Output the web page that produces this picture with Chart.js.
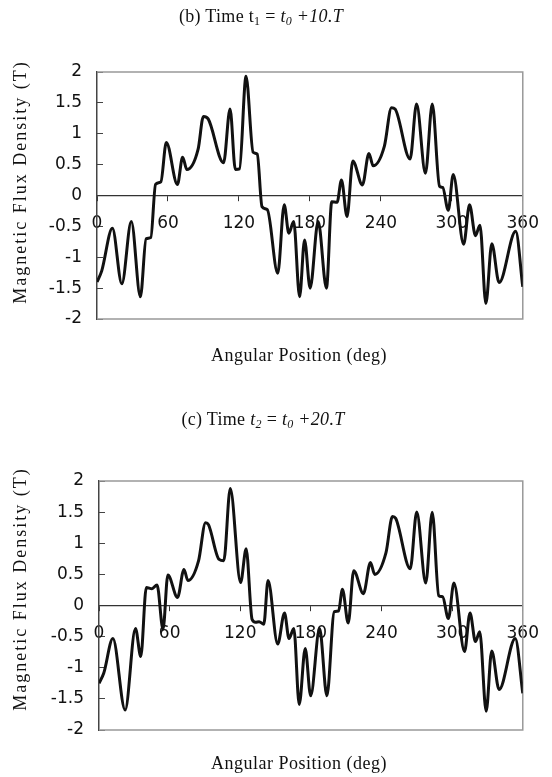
<!DOCTYPE html>
<html>
<head>
<meta charset="utf-8">
<script src="https://cdn.jsdelivr.net/npm/chart.js@4.4.1/dist/chart.umd.min.js"></script>
<style>
  body { margin: 0; background: #fff; }
  #page { position: relative; width: 552px; height: 777px; overflow: hidden; }
  canvas { position: absolute; left: 0; }
  .cap { position: absolute; font-family: 'Liberation Serif', 'Times New Roman', serif; font-size: 18px; line-height: 22px; text-align: center; color: #111; white-space: nowrap; z-index: 2; }
  .cap sub { font-size: 12px; vertical-align: -3px; line-height: 0; }
  .ylab { left: 20px; letter-spacing: 2px; transform: translate(-50%, -50%) rotate(-90deg); }
</style>
</head>
<body>
<div id="page">
  <canvas id="chartB" width="552" height="388" style="top:0"></canvas>
  <canvas id="chartC" width="552" height="389" style="top:388px"></canvas>
  <div class="cap" style="left:0;width:522px;top:5px;letter-spacing:0.3px">(b) Time t<sub>1</sub> = <i>t<sub>0</sub> +10.T</i></div>
  <div class="cap ylab" style="top:182px">Magnetic Flux Density (T)</div>
  <div class="cap" style="left:99px;width:400px;top:344px;letter-spacing:0.5px">Angular Position (deg)</div>
  <div class="cap" style="left:0;width:526px;top:408px;letter-spacing:0.3px">(c) Time <i>t<sub>2</sub></i> = <i>t<sub>0</sub> +20.T</i></div>
  <div class="cap ylab" style="top:589px">Magnetic Flux Density (T)</div>
  <div class="cap" style="left:99px;width:400px;top:752px;letter-spacing:0.5px">Angular Position (deg)</div>
</div>
<script>
// (b) t1 = t0 + 10T : angular position (deg) and flux density (T)
const angleB = [0, 4, 13, 21, 29, 36.7, 41.5, 45.5, 49.5, 54, 58.6, 68, 72.4, 76, 85.5, 90, 94,
  107, 112.5, 117, 120.5, 126, 132, 135.5, 139.5, 144, 152.8, 158.3, 162.2, 166.3, 171.3, 175.5,
  180.2, 187, 194, 198.5, 203, 206.7, 211.4, 216.3, 224.4, 229.9, 233.5, 243, 249, 252, 264.7,
  270.2, 277.7, 283.5, 289.6, 292.3, 297, 301.2, 310, 315, 320, 323.8, 328.8, 333.8, 340, 354, 360];
const fluxB = [-1.40, -1.22, -0.53, -1.43, -0.42, -1.64, -0.70, -0.68, 0.18, 0.22, 0.86, 0.18, 0.62, 0.42, 0.75, 1.28, 1.24,
  0.53, 1.40, 0.42, 0.43, 1.93, 0.70, 0.67, -0.18, -0.23, -1.26, -0.15, -0.61, -0.42, -1.64, -0.72,
  -1.50, -0.42, -1.50, -0.10, -0.11, 0.25, -0.34, 0.56, 0.17, 0.68, 0.48, 0.80, 1.42, 1.40, 0.59,
  1.48, 0.36, 1.48, 0.15, 0.13, -0.24, 0.34, -0.79, -0.15, -0.65, -0.48, -1.75, -0.78, -1.41, -0.58, -1.48];

// (c) t2 = t0 + 20T
const angleC = [0, 4, 11.8, 22.2, 31, 35.5, 40.2, 45, 49.3, 54.4, 58.5, 66.7, 72.2, 75.5, 84.6, 90.5, 93,
  102, 106, 111.5, 120.3, 125, 130, 133, 136, 140, 143.6, 151.8, 157.6, 161.4, 165.5, 170.1, 175.2,
  179.8, 187.4, 193.6, 199.9, 203.5, 206.8, 211.7, 216.4, 224.6, 230.6, 234.2, 243.8, 249.3, 252,
  264.4, 269.9, 277.6, 283.1, 288.6, 291.9, 296.8, 301.5, 310.5, 315.2, 319.8, 323.4, 328.9, 333.6, 339.9, 353.6, 360];
const fluxC = [-1.25, -1.09, -0.53, -1.68, -0.37, -0.82, 0.29, 0.27, 0.33, -0.38, 0.49, 0.13, 0.58, 0.40, 0.72, 1.33, 1.30,
  0.74, 0.72, 1.88, 0.37, 0.91, -0.22, -0.27, -0.26, -0.30, 0.40, -0.62, -0.12, -0.53, -0.37, -1.59, -0.69,
  -1.45, -0.37, -1.45, -0.10, -0.09, 0.26, -0.28, 0.56, 0.19, 0.69, 0.50, 0.85, 1.43, 1.40,
  0.59, 1.50, 0.36, 1.50, 0.16, 0.14, -0.21, 0.36, -0.74, -0.12, -0.58, -0.42, -1.70, -0.73, -1.35, -0.53, -1.41];

const xTicks = [0, 60, 120, 180, 240, 300, 360];
const yTicks = [-2, -1.5, -1, -0.5, 0, 0.5, 1, 1.5, 2];

// grey box round the plot area (top, right, bottom)
const frame = {
  id: 'frame',
  beforeDatasetsDraw(chart) {
    const { ctx, chartArea: a } = chart;
    ctx.save();
    ctx.strokeStyle = '#999';
    ctx.lineWidth = 1.5;
    ctx.beginPath();
    ctx.moveTo(a.left, a.top);
    ctx.lineTo(a.right, a.top);
    ctx.lineTo(a.right, a.bottom);
    ctx.lineTo(a.left, a.bottom);
    ctx.stroke();
    ctx.restore();
  }
};

function makeChart(id, angles, flux, pad, axisWidth) {
  return new Chart(document.getElementById(id), {
    type: 'line',
    data: {
      datasets: [{
        data: angles.map((a, i) => ({ x: a, y: flux[i] })),
        borderColor: '#111',
        borderWidth: 3,
        pointRadius: 0,
        cubicInterpolationMode: 'monotone',
        fill: false
      }]
    },
    options: {
      responsive: false,
      animation: false,
      layout: { padding: pad },
      plugins: {
        legend: { display: false },
        tooltip: { enabled: false }
      },
      scales: {
        x: {
          type: 'linear',
          min: 0,
          max: 360,
          position: { y: 0 },
          afterBuildTicks: s => { s.ticks = xTicks.map(v => ({ value: v })); },
          grid: { drawOnChartArea: false, tickLength: 5, color: '#333' },
          border: { color: '#333', width: 1.2 },
          ticks: { padding: 13, color: '#111', autoSkip: false, maxRotation: 0,
                   font: { family: 'DejaVu Sans', size: 17 } }
        },
        y: {
          min: -2,
          max: 2,
          afterBuildTicks: s => { s.ticks = yTicks.map(v => ({ value: v })); },
          afterFit: s => { s.width = axisWidth; },
          grid: { drawOnChartArea: false, tickLength: -6, color: '#444' },
          border: { color: '#444', width: 1.5 },
          ticks: { padding: 21, color: '#111', callback: v => String(v),
                   font: { family: 'DejaVu Sans', size: 17 } }
        }
      }
    },
    plugins: [frame]
  });
}

makeChart('chartB', angleB, fluxB, { top: 72, right: 20, bottom: 69, left: 0 }, 97);
makeChart('chartC', angleC, fluxC, { top: 93, right: 15, bottom: 47, left: 0 }, 99);
</script>
</body>
</html>
